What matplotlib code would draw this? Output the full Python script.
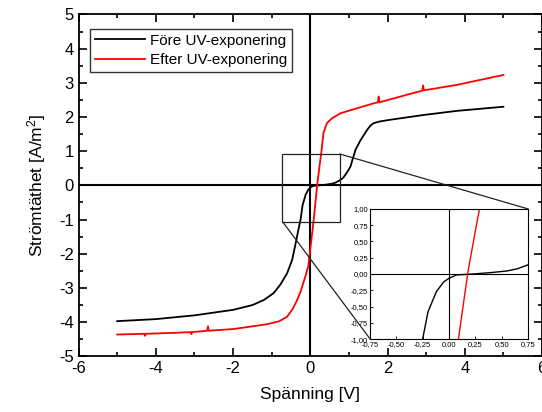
import matplotlib
matplotlib.use('Agg')
import matplotlib.pyplot as plt
from matplotlib.patches import Rectangle, ConnectionPatch
from matplotlib.ticker import MultipleLocator, FuncFormatter

plt.rcParams['font.family'] = ['Liberation Sans', 'DejaVu Sans']
plt.rcParams['mathtext.fontset'] = 'custom'
plt.rcParams['mathtext.rm'] = 'Liberation Sans'
plt.rcParams['mathtext.it'] = 'Liberation Sans'
plt.rcParams['axes.unicode_minus'] = False

# Före UV-exponering (black)
fore_v = [-5.0, -4.0, -3.0, -2.0, -1.5, -1.2, -0.95, -0.78, -0.6, -0.47, -0.36,
          -0.3, -0.25, -0.2, -0.12, -0.05, 0.0, 0.07, 0.23, 0.39, 0.55, 0.65,
          0.75, 0.85, 0.95, 1.04, 1.1, 1.17, 1.3, 1.47, 1.55, 1.64, 1.8, 2.07,
          2.94, 3.8, 5.0]
fore_j = [-3.97, -3.91, -3.8, -3.64, -3.5, -3.35, -3.15, -2.91, -2.57, -2.18, -1.59,
          -1.25, -0.99, -0.58, -0.27, -0.12, -0.066, -0.015, 0.0, 0.02, 0.046, 0.08,
          0.14, 0.22, 0.38, 0.55, 0.78, 1.04, 1.32, 1.62, 1.74, 1.82, 1.87, 1.92,
          2.06, 2.18, 2.3]

# Efter UV-exponering (red), incl. small measurement spikes
efter_v = [-5.0, -4.3, -4.28, -4.26, -3.5, -3.1, -3.08, -3.06, -2.85, -2.67, -2.65,
           -2.63, -1.99, -1.12, -0.8, -0.6, -0.45, -0.34, -0.25, -0.13, -0.05, 0.09,
           0.18, 0.26, 0.29, 0.34, 0.43, 0.56, 0.78, 1.64, 1.75, 1.77, 1.79, 2.5,
           2.9, 2.92, 2.94, 3.8, 5.0]
efter_j = [-4.36, -4.34, -4.4, -4.34, -4.31, -4.29, -4.35, -4.29, -4.27, -4.25, -4.12,
           -4.25, -4.2, -4.06, -3.97, -3.84, -3.6, -3.35, -3.1, -2.67, -2.35, -0.99,
           0.035, 0.75, 1.0, 1.53, 1.82, 1.96, 2.11, 2.4, 2.43, 2.6, 2.43, 2.65,
           2.77, 2.92, 2.78, 2.94, 3.23]

fig = plt.figure(figsize=(5.42, 4.12), dpi=100)
ax = fig.add_axes([0.145, 0.135, 0.855, 0.83])

ax.plot(fore_v, fore_j, color='black', lw=1.3, label='Före UV-exponering')
ax.plot(efter_v, efter_j, color='red', lw=1.3, label='Efter UV-exponering')
ax.axhline(0, color='black', lw=1.5, zorder=0)
ax.axvline(0, color='black', lw=1.5, zorder=0)

ax.set_xlim(-6, 6)
ax.set_ylim(-5, 5)
ax.xaxis.set_major_locator(MultipleLocator(2))
ax.xaxis.set_minor_locator(MultipleLocator(1))
ax.yaxis.set_major_locator(MultipleLocator(1))
ax.yaxis.set_minor_locator(MultipleLocator(0.5))
ax.tick_params(which='both', direction='in', top=True, right=True,
               labelsize=12, width=1.2)
ax.tick_params(which='major', length=6)
ax.tick_params(which='minor', length=3)
for s in ax.spines.values():
    s.set_linewidth(1.3)
ax.set_xlabel('Spänning [V]', fontsize=12.5, labelpad=8)
ax.set_ylabel('Strömtäthet [A/m$^{2}$]', fontsize=12.5, labelpad=8)

leg = ax.legend(loc='upper left', bbox_to_anchor=(0.025, 0.957), fontsize=11,
                frameon=True, fancybox=False, handlelength=3.3,
                borderpad=0.3, labelspacing=0.35, handletextpad=0.3,
                borderaxespad=0.0)
leg.get_frame().set_edgecolor('black')
leg.get_frame().set_linewidth(1.0)

# zoom box
ax.add_patch(Rectangle((-0.72, -1.06), 1.48, 1.98, fill=False,
                       edgecolor='#222222', lw=0.9, zorder=3))

# inset
ins = fig.add_axes([0.683, 0.177, 0.291, 0.316])
ins.plot(fore_v, fore_j, color='black', lw=1.0)
ins.plot(efter_v, efter_j, color='red', lw=1.0)
ins.axhline(0, color='black', lw=0.8, zorder=0)
ins.axvline(0, color='black', lw=0.8, zorder=0)
ins.set_xlim(-0.75, 0.75)
ins.set_ylim(-1, 1)
ins.xaxis.set_major_locator(MultipleLocator(0.25))
ins.yaxis.set_major_locator(MultipleLocator(0.25))
comma = FuncFormatter(lambda v, p: ('%.2f' % v).replace('.', ','))
ins.xaxis.set_major_formatter(comma)
ins.yaxis.set_major_formatter(comma)
ins.tick_params(direction='in', length=2, width=0.6, labelsize=5.5, pad=1.5)
for s in ins.spines.values():
    s.set_linewidth(0.8)

for xy_main, xy_ins in [((0.76, 0.92), (1, 1)), ((-0.72, -1.06), (0, 0))]:
    con = ConnectionPatch(xyA=xy_main, coordsA=ax.transData,
                          xyB=xy_ins, coordsB=ins.transAxes,
                          color='#222222', lw=0.9)
    fig.add_artist(con)

fig.savefig('out.png', dpi=100)
